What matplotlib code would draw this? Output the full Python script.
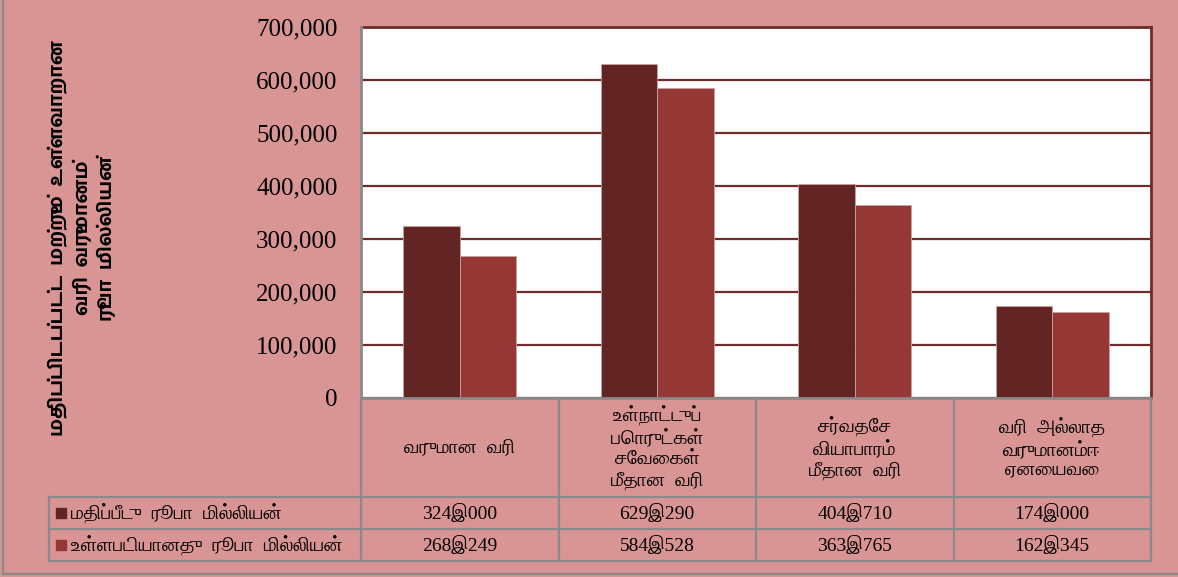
import matplotlib
matplotlib.use('Agg')
import matplotlib.pyplot as plt
import matplotlib.transforms as mtransforms
from matplotlib.lines import Line2D
import numpy as np

# data
categories = ['வருமான  வரி',
              'உள்நாட்டுப்\nபொருட்கள்\nசேவைகள்\nமீதான  வரி',
              'சர்வதேச\nவியாபாரம்\nமீதான  வரி',
              'வரி  அல்லாத\nவருமானம்ஈ\nஏனையவை']
series_names = ['மதிப்பீடு  ரூபா  மில்லியன்', 'உள்ளபடியானது  ரூபா  மில்லியன்']
estimate = [324000, 629290, 404710, 174000]
actual = [268249, 584528, 363765, 162345]
yticks = [0, 100000, 200000, 300000, 400000, 500000, 600000, 700000]
ylabel = 'மதிப்பிடப்பட்ட  மற்றும்  உள்ளவாறான\nவரி  வருமானம்\nரூபா  மில்லியன்'

bg = '#D99594'
c_est = '#632523'
c_act = '#953735'
grey = '#8a8a8a'
tamil = ['FreeSerif']
serif = ['Liberation Serif', 'FreeSerif']

W, H = 1178, 577
fig = plt.figure(figsize=(W / 100, H / 100), dpi=100, facecolor=bg)
L, R, T, B = 361, 1151, 27, 398
ax = fig.add_axes([L / W, (H - B) / H, (R - L) / W, (B - T) / H])
ax.set_facecolor('white')

x = np.arange(len(categories))
w = 0.286
ax.bar(x - w, estimate, w, align='edge', color=c_est, edgecolor='#c9a3a3', lw=0.6, zorder=3)
ax.bar(x, actual, w, align='edge', color=c_act, edgecolor='#c9a3a3', lw=0.6, zorder=3)

ax.set_xlim(-0.5, len(categories) - 0.5)
ax.set_ylim(0, 700000)
ax.set_yticks(yticks)
ax.set_yticklabels(['{:,}'.format(v) for v in yticks], family=serif, fontsize=18)
ax.tick_params(axis='y', length=0, pad=17)
ax.set_xticks([])
ax.yaxis.grid(True, color='#6e2b2b', lw=1.6, zorder=1)
ax.set_axisbelow(True)
for s in ['top', 'right']:
    ax.spines[s].set_color('#6e2b2b')
    ax.spines[s].set_linewidth(2)
for s in ['left', 'bottom']:
    ax.spines[s].set_color(grey)
    ax.spines[s].set_linewidth(2)
    ax.spines[s].set_zorder(4)

# y label
fig.text(82 / W, 1 - 238 / H, ylabel, rotation=90, ha='center', va='center',
         family=['Hind Madurai'], weight='bold', fontsize=14, linespacing=1.35)

# data table under the axes
tr = mtransforms.blended_transform_factory(ax.transData, ax.transAxes)
cw = (R - L) / len(categories)
x_left = -0.5 - (L - 49) / cw
y_hdr = -(497 - B) / (B - T)
y_r1 = -(529 - B) / (B - T)
y_r2 = -(561 - B) / (B - T)
lk = dict(color=grey, lw=1.6, transform=tr, clip_on=False)
for xb in np.arange(len(categories) + 1) - 0.5:
    ax.add_line(Line2D([xb, xb], [0, y_r2], **lk))
ax.add_line(Line2D([x_left, x_left], [y_hdr, y_r2], **lk))
for yb in [y_hdr, y_r1, y_r2]:
    ax.add_line(Line2D([x_left, len(categories) - 0.5], [yb, yb], **lk))

for i, cat in enumerate(categories):
    ax.text(x[i], y_hdr / 2, cat, ha='center', va='center', transform=tr,
            family=tamil, fontsize=14.5, linespacing=1.25)

rows = [(series_names[0], c_est, estimate, (y_hdr + y_r1) / 2),
        (series_names[1], c_act, actual, (y_r1 + y_r2) / 2)]
for name, col, vals, yc in rows:
    ax.plot([-0.5 - (L - 61) / cw], [yc], 's', ms=7, color=col, transform=tr, clip_on=False)
    ax.text(-0.5 - (L - 71) / cw, yc, name, ha='left', va='center', transform=tr,
            family=tamil, fontsize=14.5)
    for i, v in enumerate(vals):
        ax.text(x[i], yc, '{:,}'.format(v).replace(',', 'இ'), ha='center', va='center',
                transform=tr, family=serif, fontsize=14)

# outer frame
fig.add_artist(Line2D([3 / W, 3 / W], [(H - 574) / H, 1], color=grey, lw=1.6, transform=fig.transFigure))
fig.add_artist(Line2D([3 / W, 1], [(H - 574) / H, (H - 574) / H], color=grey, lw=1.6, transform=fig.transFigure))

fig.savefig('out.png', dpi=100, facecolor=bg)
